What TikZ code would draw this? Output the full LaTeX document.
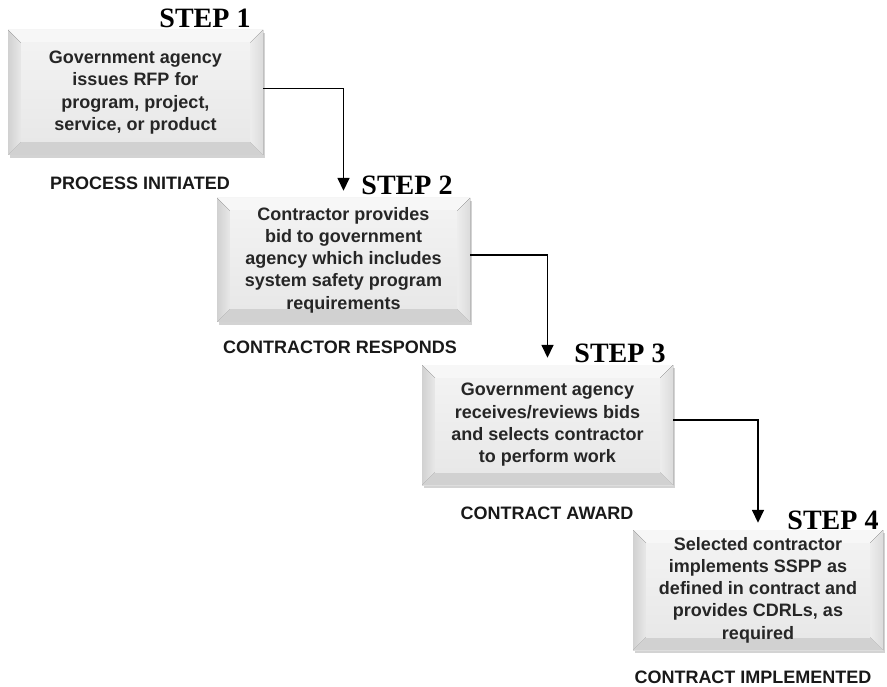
\documentclass[tikz,border=0pt]{standalone}
\usepackage{fontspec}
\setmainfont{Liberation Sans}
\newfontfamily\stepfont{Liberation Serif}
\usetikzlibrary{arrows.meta,shadows}

% bevel depth of the raised boxes
\newcommand\bvd{13pt}

\tikzset{
  stepbox/.style={
    rectangle, align=center, font=\bfseries\fontsize{18}{22.3}\selectfont,
    text=black!85, inner sep=0pt,
    drop shadow={shadow xshift=2pt, shadow yshift=-3pt, opacity=0.35},
    path picture={
      \coordinate (nw) at (path picture bounding box.north west);
      \coordinate (ne) at (path picture bounding box.north east);
      \coordinate (sw) at (path picture bounding box.south west);
      \coordinate (se) at (path picture bounding box.south east);
      \coordinate (inw) at ([shift={(\bvd,-\bvd)}]nw);
      \coordinate (ine) at ([shift={(-\bvd,-\bvd)}]ne);
      \coordinate (isw) at ([shift={(\bvd,\bvd)}]sw);
      \coordinate (ise) at ([shift={(-\bvd,\bvd)}]se);
      \fill[top color=white!96!black, bottom color=white!88!black] (nw) rectangle (se);
      \fill[white!97!black] (nw) -- (ne) -- (ine) -- (inw) -- cycle;
      \fill[left color=white!82!black, right color=white!91!black] (nw) -- (inw) -- (isw) -- (sw) -- cycle;
      \fill[left color=white!93!black, right color=white!86!black] (ne) -- (ine) -- (ise) -- (se) -- cycle;
      \fill[white!82!black] (sw) -- (isw) -- (ise) -- (se) -- cycle;
      \fill[top color=white!95!black, bottom color=white!91!black] (inw) rectangle (ise);
    }
  },
  steplabel/.style={font=\stepfont\bfseries\fontsize{28}{28}\selectfont, inner sep=0pt},
  phaselabel/.style={font=\bfseries\fontsize{18}{20}\selectfont, inner sep=0pt, text=black!90},
  flow/.style={line width=1.6pt, -{Triangle[width=12pt,length=13pt]}, shorten >=7pt}
}

\begin{document}
\begin{tikzpicture}[x=1pt,y=-1pt]
  \useasboundingbox (0,0) rectangle (887,687);

  % the four process boxes
  \node[stepbox, minimum width=255, minimum height=125] (b1) at (135.5,92.5)
    {Government agency\\issues RFP for\\program, project,\\service, or product};
  \node[stepbox, minimum width=253, minimum height=124] (b2) at (343.5,260)
    {Contractor provides\\bid to government\\agency which includes\\system safety program\\requirements};
  \node[stepbox, minimum width=251, minimum height=120] (b3) at (547.5,425)
    {Government agency\\receives/reviews bids\\and selects contractor\\to perform work};
  \node[stepbox, minimum width=250, minimum height=120] (b4) at (758,590)
    {Selected contractor\\implements SSPP as\\defined in contract and\\provides CDRLs, as\\required};

  % step headings
  \node[steplabel] (s1) at (205,18) {STEP 1};
  \node[steplabel] (s2) at (407,185) {STEP 2};
  \node[steplabel] (s3) at (620,353) {STEP 3};
  \node[steplabel] (s4) at (833,520) {STEP 4};

  % phase names under the boxes
  \node[phaselabel] (p1) at (140,183) {PROCESS INITIATED};
  \node[phaselabel] (p2) at (340,347) {CONTRACTOR RESPONDS};
  \node[phaselabel] (p3) at (547,513) {CONTRACT AWARD};
  \node[phaselabel] (p4) at (753,677) {CONTRACT IMPLEMENTED};

  % connectors
  \draw[flow] ([yshift=4]b1.east) -| (b2.north);
  \draw[flow] ([yshift=5]b2.east) -| (b3.north);
  \draw[flow] ([yshift=5]b3.east) -| (b4.north);
\end{tikzpicture}
\end{document}
